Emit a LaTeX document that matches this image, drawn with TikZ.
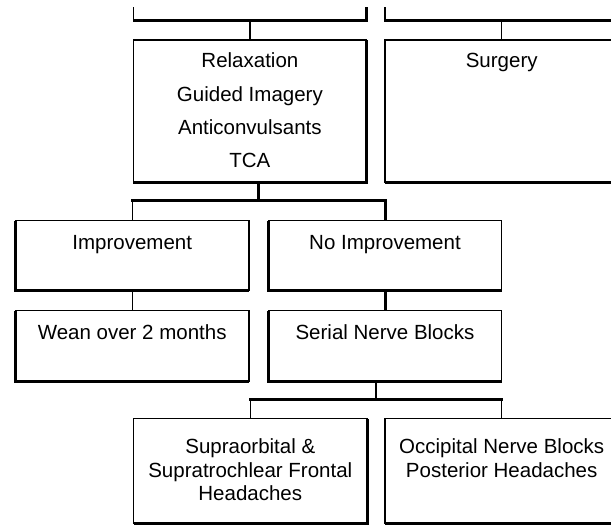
\documentclass[tikz,border=0pt]{standalone}
\usepackage{fontspec}
\setmainfont{Liberation Sans}
\begin{document}
\begin{tikzpicture}[x=1pt,y=-1pt,
  box/.style={draw, line width=1.3pt, minimum width=233.5pt, inner sep=0pt, outer sep=0pt},
  heavy/.style={line width=3pt, line join=miter},
  light/.style={line width=1.3pt},
  txt/.style={anchor=base, inner sep=0pt, outer sep=0pt, font=\fontsize{20.5}{24}\selectfont}]
\useasboundingbox (0,0) rectangle (611,526);
\fill[white] (0,0) rectangle (611,526);
\begin{scope}
\clip (0,8) rectangle (611,526);
% boxes
\node[box, minimum height=81pt]    (p1)     at (249.9,-19.5) {};
\node[box, minimum height=81pt]    (p2)     at (501.7,-19.5) {};
\node[box, minimum height=142.3pt] (relax)  at (249.9,111.2) {};
\node[box, minimum height=142.3pt] (surg)   at (501.7,111.2) {};
\node[box, minimum height=70pt]    (impr)   at (132.2,255.7) {};
\node[box, minimum height=70pt]    (noimpr) at (385,255.7) {};
\node[box, minimum height=70.3pt]  (wean)   at (132.2,345.9) {};
\node[box, minimum height=70.3pt]  (serial) at (385,345.9) {};
\node[box, minimum height=104.8pt] (supra)  at (250.3,471.1) {};
\node[box, minimum height=104.8pt] (occ)    at (501.7,471.1) {};
% heavy bottom and one side
\foreach \n in {p1,relax,supra}
  \draw[heavy] (\n.south west) -- (\n.south east) -- (\n.north east);
\foreach \n in {impr,noimpr,wean,serial}
  \draw[heavy] (\n.north west) -- (\n.south west) -- (\n.south east);
\foreach \n in {p2,surg,occ}
  \draw[heavy] (\n.south west) -- (\n.south east);
% connectors
\draw[light] (p1.south) -- (relax.north);
\draw[light] (p2.south) -- (surg.north);
\coordinate (bar1) at (258.6,201);
\draw[heavy] (relax.south -| bar1) -- (bar1);
\draw[heavy, line cap=rect] (impr.north |- bar1) -- (noimpr.north |- bar1);
\draw[light] (impr.north |- bar1) -- (impr.north);
\draw[heavy] (noimpr.north |- bar1) -- (noimpr.north);
\draw[light] (impr.south) -- (wean.north);
\draw[heavy] (noimpr.south) -- (serial.north);
\coordinate (bar2) at (376,399.3);
\draw[light] (serial.south -| bar2) -- (bar2);
\draw[heavy, line cap=rect] (supra.north |- bar2) -- (occ.north |- bar2);
\draw[light] (supra.north |- bar2) -- (supra.north);
\draw[light] (occ.north |- bar2) -- (occ.north);
\end{scope}
% texts
\node[txt] (t1) at (249.9,67.7) {Relaxation};
\node[txt] (t2) at (249.9,101.2) {Guided Imagery};
\node[txt] (t3) at (249.9,134.5) {Anticonvulsants};
\node[txt] (t4) at (249.9,167.7) {TCA};
\node[txt] (t5) at (501.7,67.7) {Surgery};
\node[txt] (t6) at (132.2,249.5) {Improvement};
\node[txt] (t7) at (385,249.5) {No Improvement};
\node[txt] (t8) at (132.2,339.3) {Wean over 2 months};
\node[txt] (t9) at (385,339.3) {Serial Nerve Blocks};
\node[txt] (t10) at (250.3,453.3) {Supraorbital \&};
\node[txt] (t11) at (250.3,477.2) {Supratrochlear Frontal};
\node[txt] (t12) at (250.3,501) {Headaches};
\node[txt] (t13) at (501.7,453.3) {Occipital Nerve Blocks};
\node[txt] (t14) at (501.7,477.2) {Posterior Headaches};
\end{tikzpicture}
\end{document}
